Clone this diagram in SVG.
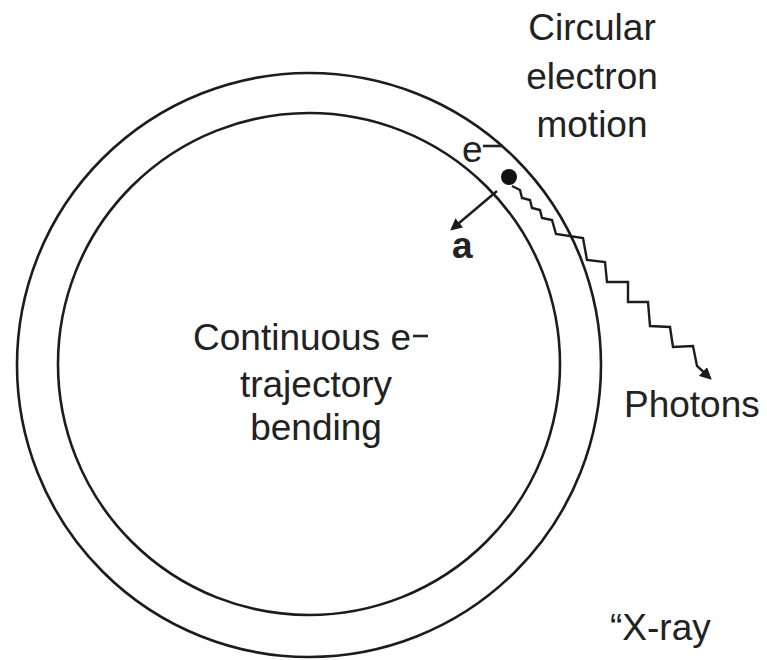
<svg xmlns="http://www.w3.org/2000/svg" width="767" height="660" viewBox="0 0 767 660">
<style>
.t{font-family:"Liberation Sans",Arial,sans-serif;font-size:37px;fill:#222}
.ring{fill:none;stroke:#1c1c1c;stroke-width:2.6}
.ln{fill:none;stroke:#1c1c1c;stroke-width:2.4;stroke-linejoin:miter}
</style>
<defs>
<marker id="ah" viewBox="0 0 10 10" refX="8" refY="5" markerWidth="5" markerHeight="5" orient="auto" markerUnits="strokeWidth">
<path d="M0,0 L10,5 L0,10 z" fill="#1c1c1c"/>
</marker>
</defs>
<rect width="767" height="660" fill="#fff"/>
<g id="rings">
<circle class="ring" cx="309" cy="365" r="292"/>
<circle class="ring" cx="309" cy="364" r="251"/>
</g>
<g id="electron">
<circle cx="509" cy="177" r="8" fill="#111"/>
<text class="t" x="462" y="162" font-size="28">e</text>
<path d="M483,146 L503,146" stroke="#222" stroke-width="2.6"/>
</g>
<g id="connectors">
<path class="ln" d="M497,191 L452,229" marker-end="url(#ah)"/>
<path class="ln" d="M512,186 L520,190 L522,198 L530,200 L532,208 L540,210 L542,218 L552,220 L556,234 L583,238 L587,260 L605,262 L607,282 L628,282 L628,302 L648,302 L650,326 L670,327 L673,347 L693,346 L697,366 L710,378" marker-end="url(#ah)"/>
</g>
<g id="labels">
<text class="t" x="452" y="258" font-size="26" font-weight="bold">a</text>
<text class="t" x="592" y="40" text-anchor="middle">Circular</text>
<text class="t" x="592" y="89" text-anchor="middle">electron</text>
<text class="t" x="592" y="137" text-anchor="middle">motion</text>
<text class="t" x="193" y="350">Continuous e</text>
<path d="M413,336 L428,336" stroke="#222" stroke-width="2.6"/>
<text class="t" x="316" y="397" text-anchor="middle">trajectory</text>
<text class="t" x="316" y="440" text-anchor="middle">bending</text>
<text class="t" x="624" y="417">Photons</text>
<text class="t" x="610" y="640">“X-ray</text>
</g>
</svg>
